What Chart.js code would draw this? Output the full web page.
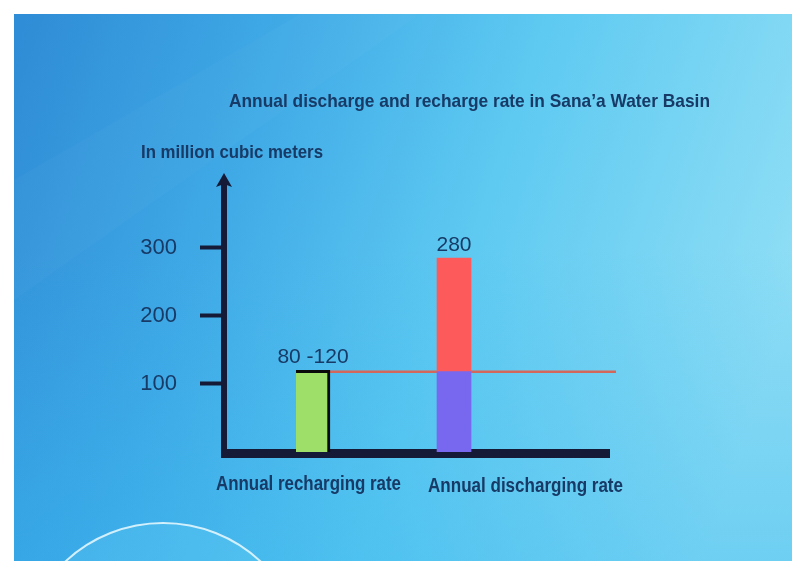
<!DOCTYPE html>
<html><head><meta charset="utf-8">
<script src="https://cdn.jsdelivr.net/npm/chart.js@4"></script>
<style>html,body{margin:0;padding:0;background:#fff;overflow:hidden}#wrap{width:792px;height:561px}</style>
</head><body><div id="wrap"><canvas id="c" width="792" height="561"></canvas></div>
<script>
// ---- data ----
const categories = ['Annual recharging rate', 'Annual discharging rate'];
const rechargeRate = [120, null];            // upper bound of 80-120 range
const dischargeWithinRecharge = [null, 118]; // part of discharge covered by recharge
const dischargeExcess = [null, 167];         // part above recharge line (total ≈ 285)
const valueLabels = ['80 -120', '280'];
const rechargeLineValue = 118;
const yTickValues = [100, 200, 300];
const titleText = 'Annual discharge and recharge rate in Sana\u2019a Water Basin';
const yAxisTitle = 'In million cubic meters';

// ---- styles ----
const FONT = '"Liberation Sans", Arial, Helvetica, sans-serif';
const NAVY = '#173a66';
const AXIS = '#151b36';

function toPoints(arr){ return arr.map((v,i)=> v==null?null:{x:i,y:v}).filter(p=>p); }

function fitText(ctx, text, cx, cy, w, font){
  ctx.save();
  ctx.font = font;
  const m = ctx.measureText(text).width;
  ctx.translate(cx, cy);
  ctx.scale(w/m, 1);
  ctx.textAlign = 'center';
  ctx.textBaseline = 'middle';
  ctx.fillStyle = NAVY;
  ctx.fillText(text, 0, 0);
  ctx.restore();
}

const decor = {
  id:'decor',
  beforeDraw(chart){
    const ctx = chart.ctx, W = chart.width, H = chart.height;
    ctx.save();
    ctx.fillStyle = '#ffffff';
    ctx.fillRect(0,0,W,H);
    ctx.beginPath(); ctx.rect(14,14,W-14,H-14); ctx.clip();
    let g = ctx.createLinearGradient(14, 40, 792, 300);
    g.addColorStop(0, '#2f8cd6');
    g.addColorStop(0.3, '#3fa9e6');
    g.addColorStop(0.6, '#5dc9f1');
    g.addColorStop(1, '#8fdef5');
    ctx.fillStyle = g; ctx.fillRect(0,0,W,H);
    // lower region slightly deeper
    let g2 = ctx.createLinearGradient(0, 250, 0, 561);
    g2.addColorStop(0, 'rgba(50,175,235,0)');
    g2.addColorStop(1, 'rgba(50,180,238,0.35)');
    ctx.fillStyle = g2; ctx.fillRect(0,0,W,H);
    // soft diagonal sheen
    ctx.beginPath();
    ctx.moveTo(14, 180); ctx.lineTo(300, 14); ctx.lineTo(420, 14); ctx.lineTo(14, 300); ctx.closePath();
    ctx.fillStyle = 'rgba(255,255,255,0.025)'; ctx.fill();
    // circle at bottom-left
    ctx.beginPath(); ctx.arc(163, 666, 143, 0, Math.PI*2);
    ctx.fillStyle = 'rgba(120,220,250,0.2)'; ctx.fill();
    ctx.lineWidth = 2; ctx.strokeStyle = 'rgba(235,250,255,0.85)'; ctx.stroke();
    ctx.restore();

    // texts
    fitText(ctx, titleText, 469.5, 102, 481, 'bold 19px ' + FONT);
    fitText(ctx, yAxisTitle, 232, 153, 182, 'bold 19px ' + FONT);
  },
  beforeDatasetsDraw(chart){
    const ctx = chart.ctx, a = chart.chartArea;
    const xs = chart.scales.x, ys = chart.scales.y;
    ctx.save();
    // x axis line
    ctx.fillStyle = AXIS;
    ctx.fillRect(a.left - 3, a.bottom - 3, a.right - a.left + 3, 9);
    // recharge level line
    const yl = ys.getPixelForValue(rechargeLineValue);
    ctx.strokeStyle = '#d4675c';
    ctx.lineWidth = 2.5;
    ctx.beginPath();
    ctx.moveTo(xs.getPixelForValue(0) + 16, yl);
    ctx.lineTo(a.right + 6, yl);
    ctx.stroke();
    ctx.restore();
  },
  afterDatasetsDraw(chart){
    const ctx = chart.ctx, a = chart.chartArea;
    const xs = chart.scales.x, ys = chart.scales.y;
    ctx.save();
    // y axis line with arrow
    ctx.fillStyle = AXIS;
    ctx.fillRect(a.left - 3, a.top + 10, 6, a.bottom - a.top - 4);
    ctx.beginPath();
    ctx.moveTo(a.left, a.top);
    ctx.lineTo(a.left + 8, a.top + 14);
    ctx.lineTo(a.left, a.top + 11);
    ctx.lineTo(a.left - 8, a.top + 14);
    ctx.closePath();
    ctx.fill();
    // value labels
    ctx.font = '21px ' + FONT;
    ctx.fillStyle = NAVY;
    ctx.textAlign = 'center';
    ctx.textBaseline = 'alphabetic';
    categories.forEach((c, i) => {
      const total = [rechargeRate, dischargeWithinRecharge, dischargeExcess]
        .reduce((s, arr) => s + (arr[i] || 0), 0);
      const x = xs.getPixelForValue(i);
      const y = ys.getPixelForValue(total);
      ctx.fillText(valueLabels[i], x, y - 7);
    });
    ctx.restore();
    // category labels
    fitText(ctx, categories[0], xs.getPixelForValue(0) - 4.5, 484, 185, 'bold 20px ' + FONT);
    fitText(ctx, categories[1], xs.getPixelForValue(1) + 71.5, 486, 195, 'bold 20px ' + FONT);
  }
};

new Chart(document.getElementById('c'), {
  type: 'bar',
  data: {
    datasets: [
      { label: categories[0], data: toPoints(rechargeRate), backgroundColor: '#9ddf68',
        borderColor: '#0a0a0a', borderWidth: {top: 3, right: 3, left: 0, bottom: 0},
        borderSkipped: false, barThickness: 34 },
      { label: 'Discharge within recharge', data: toPoints(dischargeWithinRecharge),
        backgroundColor: '#7868ef', borderWidth: 0, barThickness: 34 },
      { label: 'Discharge above recharge', data: toPoints(dischargeExcess),
        backgroundColor: '#fd5b5b', borderWidth: 0, barThickness: 34 }
    ]
  },
  options: {
    responsive: false,
    animation: false,
    layout: { padding: { top: 173, right: 182, bottom: 109, left: 0 } },
    plugins: { legend: { display: false }, tooltip: { enabled: false }, title: { display: false } },
    scales: {
      x: { type: 'linear', display: false, offset: false, grid: { offset: false },
           min: -0.631, max: 2.106, stacked: true },
      y: {
        min: 0, max: 410, stacked: true,
        afterBuildTicks: axis => { axis.ticks = yTickValues.map(v => ({ value: v })); },
        afterFit: axis => { axis.width = 224; },
        border: { display: false },
        grid: { drawOnChartArea: false, drawTicks: true, tickLength: 24, tickWidth: 4, tickColor: AXIS },
        ticks: { padding: 23, color: NAVY, font: { family: FONT, size: 22 } }
      }
    }
  },
  plugins: [decor]
});
</script>
</body></html>
